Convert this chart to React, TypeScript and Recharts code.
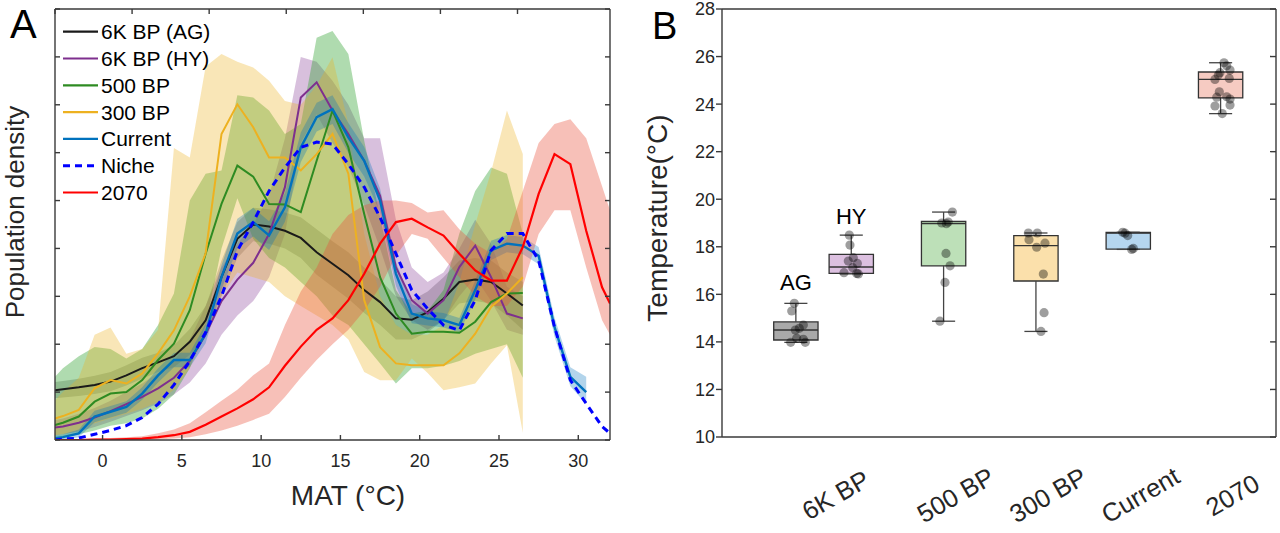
import React from 'react';
import {
  ComposedChart, Line, Area, XAxis, YAxis, Scatter, ReferenceArea, ReferenceLine, Legend,
} from 'recharts';

const n = null;

// ---------- Panel A data (MAT grid, °C) ----------
const matGrid = [-3, -2.5, -1.5, -0.5, 0.5, 1.5, 2.5, 3.5, 4.5, 5.5, 6.5, 7.5, 8.5, 9.5, 10.5, 11.5, 12.5, 13.5, 14.5, 15.5, 16.5, 17.5, 18.5, 19.5, 20.5, 21.5, 22.5, 23.5, 24.5, 25.5, 26.5, 27.5, 28.5, 29.5, 30.5, 31.5, 32];

const ag = [1.04, 1.06, 1.10, 1.15, 1.22, 1.35, 1.50, 1.62, 1.75, 2.05, 2.50, 3.40, 4.20, 4.50, 4.46, 4.37, 4.22, 3.92, 3.68, 3.44, 3.13, 2.88, 2.54, 2.51, 2.67, 2.95, 3.30, 3.35, 3.30, 3.06, 2.81, n, n, n, n, n, n];
const agLo = [0.87, 0.89, 0.92, 0.96, 1.02, 1.14, 1.28, 1.42, 1.52, 1.78, 2.15, 3.0, 3.8, 4.15, 4.1, 4.0, 3.8, 3.45, 3.2, 2.95, 2.65, 2.4, 2.1, 2.1, 2.25, 2.5, 2.85, 2.9, 2.85, 2.6, 2.3, n, n, n, n, n, n];
const agHi = [1.21, 1.23, 1.28, 1.34, 1.42, 1.56, 1.72, 1.82, 1.98, 2.32, 2.8, 3.75, 4.55, 4.85, 4.82, 4.75, 4.65, 4.4, 4.15, 3.92, 3.6, 3.35, 3.0, 2.92, 3.1, 3.4, 3.75, 3.8, 3.75, 3.5, 3.3, n, n, n, n, n, n];

const hy = [0.26, 0.28, 0.36, 0.47, 0.6, 0.75, 0.9, 1.08, 1.3, 1.65, 2.2, 2.9, 3.35, 3.7, 4.3, 5.28, 7.15, 7.47, 6.88, 6.39, 5.83, 5.1, 3.61, 2.92, 2.64, 2.92, 3.61, 4.06, 3.4, 2.64, 2.54, n, n, n, n, n, n];
const hyLo = [0.1, 0.12, 0.18, 0.27, 0.38, 0.5, 0.62, 0.76, 0.95, 1.2, 1.6, 2.2, 2.6, 2.9, 3.4, 4.3, 6.2, 6.8, 6.2, 5.7, 4.9, 4.0, 3.0, 2.5, 2.3, 2.5, 3.0, 3.4, 2.9, 2.3, 2.2, n, n, n, n, n, n];
const hyHi = [0.42, 0.45, 0.55, 0.67, 0.82, 1.0, 1.18, 1.4, 1.65, 2.1, 2.8, 3.6, 4.1, 4.5, 5.1, 6.3, 8.0, 7.9, 7.5, 7.0, 6.3, 6.3, 4.6, 3.6, 3.3, 3.5, 4.0, 4.6, 4.1, 3.2, 3.0, n, n, n, n, n, n];

const bp500 = [0.31, 0.36, 0.49, 0.8, 0.97, 1.0, 1.25, 1.67, 2.01, 2.71, 3.89, 4.93, 5.73, 5.5, 4.93, 4.92, 4.76, 5.83, 6.88, 6.11, 4.72, 3.4, 2.64, 2.22, 2.26, 2.26, 2.24, 2.47, 2.88, 3.06, 3.07, n, n, n, n, n, n];
const bp500Lo = [0.0, 0.05, 0.12, 0.2, 0.3, 0.35, 0.45, 0.65, 0.95, 1.5, 2.4, 4.0, 5.05, 4.2, 3.8, 3.6, 3.3, 3.0, 2.6, 2.4, 2.0, 1.6, 1.18, 1.5, 1.5, 1.55, 1.65, 1.8, 1.9, 2.0, 1.3, n, n, n, n, n, n];
const bp500Hi = [1.32, 1.5, 1.75, 1.94, 1.9, 1.7, 1.9, 2.4, 3.06, 5.0, 5.56, 5.63, 7.2, 7.15, 6.88, 6.39, 6.6, 8.4, 8.54, 8.06, 6.25, 4.65, 3.13, 2.64, 2.7, 3.13, 4.31, 5.2, 5.69, 5.56, 4.31, n, n, n, n, n, n];

const bp300 = [0.45, 0.5, 0.63, 1.08, 1.25, 1.18, 1.39, 1.81, 2.29, 3.0, 3.9, 6.39, 7.01, 6.53, 5.9, 5.9, 5.63, 5.97, 6.39, 5.56, 2.92, 1.94, 1.6, 1.56, 1.56, 1.56, 1.81, 2.22, 2.78, 3.06, 3.4, n, n, n, n, n, n];
const bp300Lo = [0.1, 0.12, 0.2, 0.35, 0.45, 0.55, 0.65, 0.8, 1.05, 1.5, 2.2, 3.0, 3.5, 3.4, 3.3, 3.0, 2.8, 2.6, 2.4, 2.1, 1.42, 1.25, 1.25, 1.7, 1.4, 1.04, 1.1, 1.18, 1.6, 1.98, 0.15, n, n, n, n, n, n];
const bp300Hi = [0.83, 1.0, 1.3, 2.2, 2.35, 1.8, 1.9, 2.3, 6.1, 5.9, 7.8, 8.06, 7.9, 7.78, 7.5, 7.08, 7.0, 7.4, 7.99, 6.6, 4.3, 3.0, 2.4, 2.2, 2.2, 2.4, 3.3, 4.5, 5.6, 6.88, 5.97, n, n, n, n, n, n];

const current = [0.04, 0.06, 0.14, 0.49, 0.59, 0.69, 0.97, 1.35, 1.67, 1.67, 2.22, 3.4, 4.31, 4.55, 4.27, 4.86, 6.11, 6.74, 6.91, 6.32, 5.83, 5.0, 3.47, 2.64, 2.54, 2.5, 2.4, 3.13, 3.96, 4.1, 4.06, 3.85, 2.36, 1.32, 1.0, n, n];
const currentLo = [0, 0, 0.06, 0.37, 0.47, 0.57, 0.84, 1.2, 1.52, 1.52, 2.02, 3.15, 4.0, 4.25, 3.97, 4.56, 5.8, 6.44, 6.6, 6.0, 5.5, 4.75, 3.22, 2.44, 2.39, 2.35, 2.25, 2.93, 3.76, 3.92, 3.88, 3.67, 2.16, 1.12, 0.75, n, n];
const currentHi = [0.1, 0.12, 0.22, 0.61, 0.71, 0.81, 1.1, 1.5, 1.82, 1.82, 2.42, 3.65, 4.62, 4.85, 4.57, 5.16, 6.42, 7.04, 7.2, 6.62, 6.12, 5.25, 3.72, 2.84, 2.69, 2.65, 2.55, 3.33, 4.16, 4.28, 4.24, 4.03, 2.56, 1.52, 1.32, n, n];

const niche = [0.0, 0.02, 0.04, 0.12, 0.2, 0.3, 0.47, 0.75, 1.15, 1.65, 2.25, 3.0, 3.95, 4.55, 5.2, 5.69, 6.11, 6.22, 6.18, 5.76, 5.28, 4.65, 3.89, 3.13, 2.74, 2.4, 2.29, 2.92, 3.96, 4.31, 4.31, 3.75, 2.36, 1.25, 0.76, 0.28, 0.14];

const y2070 = [0, 0, 0, 0.01, 0.01, 0.02, 0.03, 0.06, 0.1, 0.17, 0.32, 0.49, 0.66, 0.85, 1.1, 1.55, 1.95, 2.3, 2.54, 2.92, 3.47, 4.1, 4.55, 4.62, 4.44, 4.27, 3.89, 3.54, 3.33, 3.33, 4.03, 5.14, 5.97, 5.76, 4.37, 3.19, 2.85];
const y2070Lo = [0, 0, 0, 0, 0, 0, 0, 0.01, 0.03, 0.06, 0.12, 0.2, 0.3, 0.42, 0.55, 0.9, 1.3, 1.67, 2.0, 2.3, 2.7, 3.2, 3.85, 4.3, 4.2, 3.8, 3.4, 3.0, 2.8, 2.8, 3.2, 4.3, 4.8, 4.8, 3.6, 2.5, 2.2];
const y2070Hi = [0.01, 0.01, 0.02, 0.03, 0.04, 0.06, 0.08, 0.14, 0.22, 0.35, 0.58, 0.82, 1.05, 1.35, 1.6, 2.4, 3.1, 3.6, 4.3, 4.7, 4.9, 5.0, 5.0, 4.95, 4.75, 4.8, 4.4, 4.1, 3.9, 4.2, 5.2, 6.2, 6.6, 6.7, 6.3, 5.3, 4.8];

const matTicks = [0, 5, 10, 15, 20, 25, 30];
const densTicks = [0, 1, 2, 3, 4, 5, 6, 7, 8, 9];

const legendNames = ['6K BP (AG)', '6K BP (HY)', '500 BP', '300 BP', 'Current', 'Niche', '2070'];
const lineColors = ['#1a1a1a', '#7E2F8E', '#2e8b22', '#EDB120', '#0072BD', '#0000FF', '#FF0000'];

const band = (lo: (number | null)[], hi: (number | null)[], i: number) =>
  lo[i] == null || hi[i] == null ? null : [lo[i], hi[i]];

const rowsA = matGrid.map((x, i) => ({
  x,
  ag: ag[i], agBand: band(agLo, agHi, i),
  hy: hy[i], hyBand: band(hyLo, hyHi, i),
  bp500: bp500[i], bp500Band: band(bp500Lo, bp500Hi, i),
  bp300: bp300[i], bp300Band: band(bp300Lo, bp300Hi, i),
  current: current[i], currentBand: band(currentLo, currentHi, i),
  niche: niche[i],
  y2070: y2070[i], y2070Band: band(y2070Lo, y2070Hi, i),
}));

// ---------- Panel B data (temperature, °C) ----------
const boxNames = ['AG', 'HY', '500 BP', '300 BP', 'Current', '2070'];
const boxPos = [0.8, 1.4, 2.4, 3.4, 4.4, 5.4];
const boxQ1 = [14.08, 16.88, 17.2, 16.56, 17.9, 24.26];
const boxMed = [14.5, 17.15, 18.98, 18.05, 18.57, 25.04];
const boxQ3 = [14.84, 17.68, 19.07, 18.47, 18.6, 25.35];
const boxLow = [13.98, 16.86, 14.87, 14.44, 17.89, 23.6];
const boxHigh = [15.62, 18.49, 19.46, 18.58, 18.61, 25.74];
const boxFill = ['#a9a9a9', '#dcc0e0', '#bde0b8', '#fbe0ab', '#b5d6ef', '#f6cbc2'];

const ptValues = [
  [15.62, 15.3, 14.71, 14.57, 14.5, 14.15, 14.11, 13.98, 13.98],
  [18.49, 18.07, 17.54, 17.4, 17.3, 17.12, 16.91, 16.88, 16.86],
  [19.46, 19.04, 19.0, 18.97, 17.72, 17.2, 16.5, 14.87],
  [18.58, 18.58, 18.3, 17.98, 18.15, 16.85, 15.23, 14.44],
  [18.61, 18.57, 18.47, 17.89, 17.93],
  [25.74, 25.61, 25.43, 25.22, 25.32, 25.04, 25.08, 24.52, 24.29, 24.31, 24.21, 23.92, 23.96, 23.6],
];
const ptJitter = [
  [-0.017, -0.045, 0.081, 0.037, -0.006, 0.009, 0.081, -0.056, 0.102],
  [-0.021, -0.014, 0.022, -0.032, 0.066, 0.016, -0.079, 0.059, 0.077],
  [0.095, 0.05, -0.02, 0.03, 0.026, 0.07, 0.015, -0.04],
  [-0.082, 0.015, -0.075, 0.008, 0.098, 0.08, 0.088, 0.055],
  [-0.06, -0.035, -0.006, 0.037, 0.055],
  [0.037, 0.066, 0.102, -0.025, -0.007, -0.061, 0.094, -0.014, -0.042, 0.066, 0.102, -0.061, 0.102, 0.018],
];

const catTickPos = [1.1, 2.4, 3.4, 4.4, 5.4];
const catLabels = ['6K BP', '500 BP', '300 BP', 'Current', '2070'];
const tempTicks = [10, 12, 14, 16, 18, 20, 22, 24, 26, 28];
const groupLabelNames = ['AG', 'HY'];
const groupLabelPos = [0.8, 1.4];
const groupLabelY = [16.18, 18.96];

const points = ptValues.flatMap((vals, g) =>
  vals.map((v, k) => ({ x: boxPos[g] + ptJitter[g][k], v })),
);
const groupLabels = groupLabelNames.map((t, i) => ({ x: groupLabelPos[i], v: groupLabelY[i], t }));

const FONT = '"Liberation Sans", Arial, Helvetica, sans-serif';
const AX = '#3a3a3a';
const TXT = '#262626';

const NoTick = () => <g />;

const LegendA = () => (
  <svg width={190} height={195} style={{ display: 'block' }}>
    {legendNames.map((name, i) => {
      const y = 16.7 + 26.8 * i;
      return (
        <g key={name}>
          <line x1={3} x2={38} y1={y} y2={y} stroke={lineColors[i]} strokeWidth={name === 'Niche' ? 3 : 2.2}
            strokeDasharray={name === 'Niche' ? '7 5' : undefined} />
          <text x={41} y={y + 7.5} fontSize={21} fontFamily={FONT} fill="#000">{name}</text>
        </g>
      );
    })}
  </svg>
);

const CatTick = (props: any) => {
  const { x, y, payload } = props;
  const i = catTickPos.indexOf(payload.value);
  const cx = x + 12;
  const cy = y + 58;
  return (
    <text x={cx} y={cy} transform={`rotate(-30 ${cx} ${cy})`} textAnchor="middle" dominantBaseline="central"
      fontSize={25.5} fontFamily={FONT} fill={TXT}>{catLabels[i]}</text>
  );
};

const PanelA = () => (
  <ComposedChart width={640} height={533} data={rowsA} margin={{ top: 8, right: 29, bottom: 0, left: 0 }}>
    <XAxis dataKey="x" type="number" domain={[-3, 32]} ticks={matTicks} allowDataOverflow height={93}
      tickSize={-5} tickMargin={19} stroke={AX} strokeWidth={1.4} interval={0}
      tick={{ fontSize: 18, fill: TXT, fontFamily: FONT }} />
    <XAxis xAxisId="top" orientation="top" type="number" domain={[-3, 32]} ticks={matTicks} allowDataOverflow
      height={1} tickSize={-5} tick={NoTick} stroke={AX} strokeWidth={1.4} interval={0} />
    <YAxis type="number" domain={[0, 9]} ticks={densTicks} allowDataOverflow width={55} tickSize={-5}
      tick={NoTick} stroke={AX} strokeWidth={1.4} interval={0} />
    <YAxis yAxisId="right" orientation="right" type="number" domain={[0, 9]} ticks={densTicks} allowDataOverflow
      width={1} tickSize={-5} tick={NoTick} stroke={AX} strokeWidth={1.4} interval={0} />

    <Area dataKey="agBand" type="linear" stroke="none" fill="#000000" fillOpacity={0.2} isAnimationActive={false} dot={false} activeDot={false} />
    <Area dataKey="hyBand" type="linear" stroke="none" fill="#7E2F8E" fillOpacity={0.3} isAnimationActive={false} dot={false} activeDot={false} />
    <Area dataKey="bp500Band" type="linear" stroke="none" fill="#2ca02c" fillOpacity={0.38} isAnimationActive={false} dot={false} activeDot={false} />
    <Area dataKey="bp300Band" type="linear" stroke="none" fill="#EDB120" fillOpacity={0.32} isAnimationActive={false} dot={false} activeDot={false} />
    <Area dataKey="currentBand" type="linear" stroke="none" fill="#0072BD" fillOpacity={0.3} isAnimationActive={false} dot={false} activeDot={false} />
    <Area dataKey="y2070Band" type="linear" stroke="none" fill="#E8503A" fillOpacity={0.36} isAnimationActive={false} dot={false} activeDot={false} />

    <Line dataKey="ag" type="linear" stroke={lineColors[0]} strokeWidth={2} dot={false} activeDot={false} isAnimationActive={false} />
    <Line dataKey="hy" type="linear" stroke={lineColors[1]} strokeWidth={2} dot={false} activeDot={false} isAnimationActive={false} />
    <Line dataKey="bp500" type="linear" stroke={lineColors[2]} strokeWidth={2} dot={false} activeDot={false} isAnimationActive={false} />
    <Line dataKey="bp300" type="linear" stroke={lineColors[3]} strokeWidth={2} dot={false} activeDot={false} isAnimationActive={false} />
    <Line dataKey="current" type="linear" stroke={lineColors[4]} strokeWidth={2.4} dot={false} activeDot={false} isAnimationActive={false} />
    <Line dataKey="niche" type="linear" stroke={lineColors[5]} strokeWidth={3} strokeDasharray="7 5" dot={false} activeDot={false} isAnimationActive={false} />
    <Line dataKey="y2070" type="linear" stroke={lineColors[6]} strokeWidth={2.2} dot={false} activeDot={false} isAnimationActive={false} />

    <Legend layout="vertical" align="center" verticalAlign="middle" content={() => <LegendA />}
      wrapperStyle={{ left: 60, top: 15, width: 190, height: 195 }} />
  </ComposedChart>
);

const PanelB = () => (
  <ComposedChart width={640} height={533} margin={{ top: 8, right: 3, bottom: 0, left: 0 }}>
    <XAxis dataKey="x" type="number" domain={[0, 6]} ticks={catTickPos} allowDataOverflow height={96}
      tickLine={false} tickSize={0} tickMargin={0} stroke={AX} strokeWidth={1.4} interval={0} tick={<CatTick />} />
    <XAxis xAxisId="top" orientation="top" type="number" domain={[0, 6]} allowDataOverflow height={1}
      tick={NoTick} tickLine={false} stroke={AX} strokeWidth={1.4} />
    <YAxis dataKey="v" type="number" domain={[10, 28]} ticks={tempTicks} allowDataOverflow width={82}
      tickSize={6} tickMargin={1} stroke={AX} strokeWidth={1.4} interval={0}
      tick={{ fontSize: 18, fill: TXT, fontFamily: FONT }} />
    <YAxis yAxisId="right" orientation="right" type="number" domain={[10, 28]} ticks={tempTicks} allowDataOverflow
      width={1} tickSize={-6} tick={NoTick} stroke={AX} strokeWidth={1.4} interval={0} />

    {boxNames.map((name, i) => (
      <ReferenceArea key={`box-${name}`} x1={boxPos[i] - 0.24} x2={boxPos[i] + 0.24} y1={boxQ1[i]} y2={boxQ3[i]}
        fill={boxFill[i]} fillOpacity={1} stroke="#333333" strokeWidth={1.3} ifOverflow="visible" />
    ))}
    {boxNames.map((name, i) => (
      <ReferenceLine key={`wh-${name}`} segment={[{ x: boxPos[i], y: boxQ3[i] }, { x: boxPos[i], y: boxHigh[i] }]}
        stroke="#444444" strokeWidth={1.3} ifOverflow="visible" />
    ))}
    {boxNames.map((name, i) => (
      <ReferenceLine key={`wl-${name}`} segment={[{ x: boxPos[i], y: boxLow[i] }, { x: boxPos[i], y: boxQ1[i] }]}
        stroke="#444444" strokeWidth={1.3} ifOverflow="visible" />
    ))}
    {boxNames.map((name, i) => (
      <ReferenceLine key={`ch-${name}`} segment={[{ x: boxPos[i] - 0.125, y: boxHigh[i] }, { x: boxPos[i] + 0.125, y: boxHigh[i] }]}
        stroke="#444444" strokeWidth={1.3} ifOverflow="visible" />
    ))}
    {boxNames.map((name, i) => (
      <ReferenceLine key={`cl-${name}`} segment={[{ x: boxPos[i] - 0.125, y: boxLow[i] }, { x: boxPos[i] + 0.125, y: boxLow[i] }]}
        stroke="#444444" strokeWidth={1.3} ifOverflow="visible" />
    ))}
    {boxNames.map((name, i) => (
      <ReferenceLine key={`md-${name}`} segment={[{ x: boxPos[i] - 0.24, y: boxMed[i] }, { x: boxPos[i] + 0.24, y: boxMed[i] }]}
        stroke="#333333" strokeWidth={1.3} ifOverflow="visible" />
    ))}

    <Scatter data={points} dataKey="v" isAnimationActive={false}
      shape={(p: any) => <circle cx={p.cx} cy={p.cy} r={4.6} fill="#000" fillOpacity={0.38} />} />
    <Scatter data={groupLabels} dataKey="v" isAnimationActive={false}
      shape={(p: any) => (
        <text x={p.cx} y={p.cy} textAnchor="middle" fontSize={22} fontFamily={FONT} fill="#000">{p.payload.t}</text>
      )} />
  </ComposedChart>
);

export default function App() {
  return (
    <div style={{ position: 'absolute', left: 0, top: 0, width: 1280, height: 533, background: '#fff', fontFamily: FONT }}>
      <div style={{ position: 'absolute', left: 0, top: 0 }}><PanelA /></div>
      <div style={{ position: 'absolute', left: 640, top: 0 }}><PanelB /></div>
      <svg width={1280} height={533} style={{ position: 'absolute', left: 0, top: 0, pointerEvents: 'none' }}>
        <text x={10} y={38} fontSize={40} fontFamily={FONT} fill="#000">A</text>
        <text x={652} y={39} fontSize={38} fontFamily={FONT} fill="#000">B</text>
        <text x={24} y={212} transform="rotate(-90 24 212)" textAnchor="middle" fontSize={26} fontFamily={FONT} fill={TXT}>Population density</text>
        <text x={348} y={505} textAnchor="middle" fontSize={28} fontFamily={FONT} fill={TXT}>MAT (°C)</text>
        <text x={667} y={218} transform="rotate(-90 667 218)" textAnchor="middle" fontSize={28} fontFamily={FONT} fill={TXT}>Temperature(°C)</text>
      </svg>
    </div>
  );
}
